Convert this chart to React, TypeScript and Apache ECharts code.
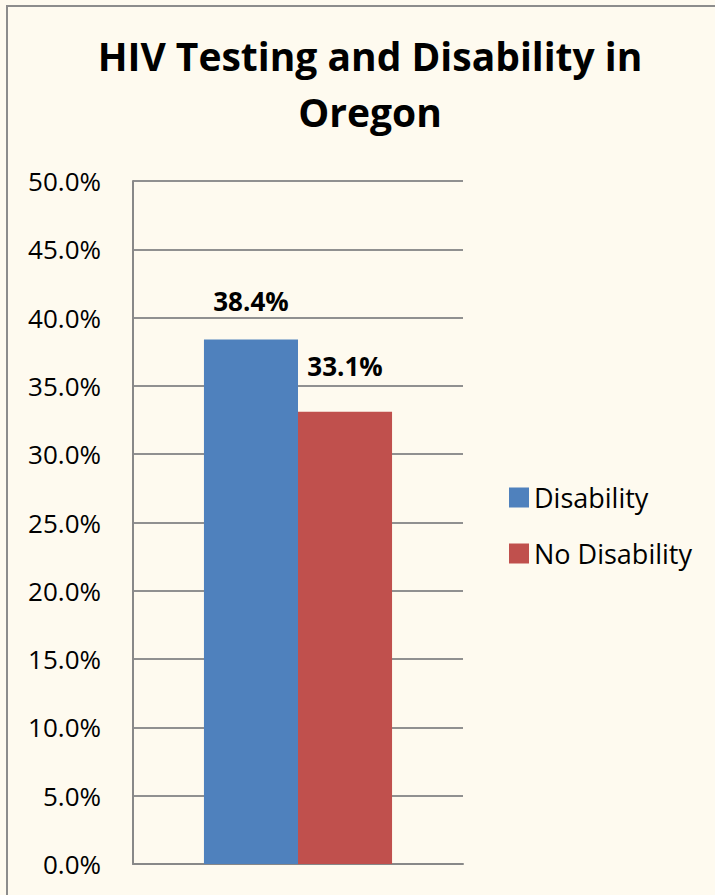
import React, { useEffect, useRef } from "react";
import * as echarts from "echarts";

const categories = ["Oregon"];
const seriesNames = ["Disability", "No Disability"];
const disabilityValues = [38.4];
const noDisabilityValues = [33.1];
const yTicks = [0, 5, 10, 15, 20, 25, 30, 35, 40, 45, 50];

const FONT = "'Open Sans', 'Noto Sans', sans-serif";
const BG = "#FEFAEF";

export default function App() {
  const ref = useRef<HTMLDivElement>(null);
  useEffect(() => {
    if (!ref.current) return;
    const chart = echarts.init(ref.current, undefined, { renderer: "svg" });
    chart.setOption({
      animation: false,
      backgroundColor: BG,
      title: {
        text: "HIV Testing and Disability in\nOregon",
        left: 365,
        textAlign: "center",
        top: 22,
        textStyle: {
          fontFamily: FONT,
          fontWeight: "bold",
          fontSize: 39,
          lineHeight: 56,
          color: "#000",
        },
      },
      legend: {
        orient: "vertical",
        left: 509,
        top: 484,
        padding: 0,
        itemWidth: 20,
        itemHeight: 20,
        itemGap: 29,
        icon: "rect",
        data: seriesNames,
        textStyle: { fontFamily: FONT, fontSize: 27, lineHeight: 20, color: "#000" },
      },
      grid: { left: 133, right: 252, top: 181, bottom: 31, containLabel: false },
      xAxis: {
        type: "category",
        data: categories,
        axisLine: { show: true, lineStyle: { color: "#888", width: 2 } },
        axisTick: { show: false },
        axisLabel: { show: false },
      },
      yAxis: {
        type: "value",
        min: yTicks[0],
        max: yTicks[yTicks.length - 1],
        interval: 5,
        axisLine: { show: true, lineStyle: { color: "#888", width: 2 } },
        axisTick: { show: false },
        splitLine: { show: true, lineStyle: { color: "#909090", width: 2 } },
        axisLabel: {
          margin: 32,
          fontFamily: FONT,
          fontSize: 26,
          color: "#000",
          formatter: (v: number) => v.toFixed(1) + "%",
        },
      },
      series: [
        {
          name: seriesNames[0],
          type: "bar",
          data: disabilityValues,
          barGap: "0%",
          barCategoryGap: "43%",
          itemStyle: { color: "#4F81BD" },
          label: {
            show: true,
            position: "top",
            distance: 25,
            fontFamily: FONT,
            fontWeight: "bold",
            fontSize: 26,
            color: "#000",
            formatter: (p: any) => p.value.toFixed(1) + "%",
          },
        },
        {
          name: seriesNames[1],
          type: "bar",
          data: noDisabilityValues,
          barGap: "0%",
          barCategoryGap: "43%",
          itemStyle: { color: "#C0504D" },
          label: {
            show: true,
            position: "top",
            distance: 33,
            fontFamily: FONT,
            fontWeight: "bold",
            fontSize: 26,
            color: "#000",
            formatter: (p: any) => p.value.toFixed(1) + "%",
          },
        },
      ],
      graphic: [
        {
          type: "rect",
          shape: { x: 7, y: 6, width: 800, height: 1000 },
          style: { fill: "none", stroke: "#8C8C8C", lineWidth: 2 },
          silent: true,
        },
      ],
    });
    return () => chart.dispose();
  }, []);
  return (
    <div
      ref={ref}
      style={{ position: "fixed", left: 0, top: 0, width: 715, height: 895, background: BG }}
    />
  );
}
